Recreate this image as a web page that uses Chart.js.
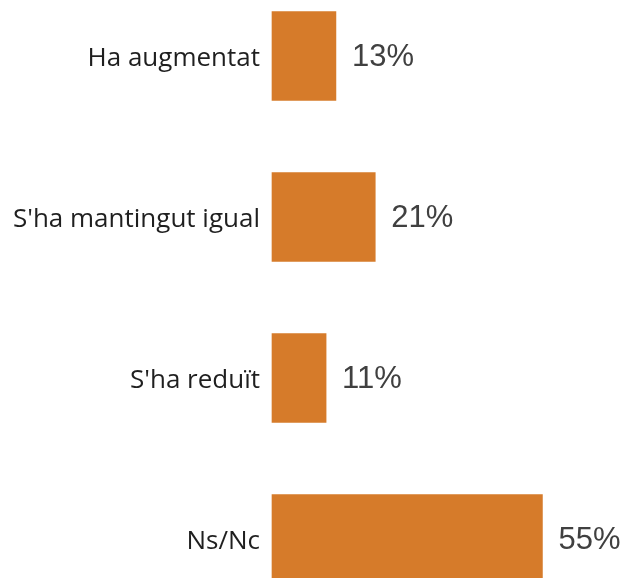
<!DOCTYPE html>
<html>
<head>
<meta charset="utf-8">
<script src="https://cdn.jsdelivr.net/npm/chart.js@4"></script>
<style>
  html, body { margin: 0; padding: 0; background: #fff; }
  #wrap { width: 623px; height: 578px; position: relative; }
</style>
</head>
<body>
<div id="wrap"><canvas id="chart"></canvas></div>
<script>
// Chart data
const categories = ["Ha augmentat", "S'ha mantingut igual", "S'ha reduït", "Ns/Nc"];
const values = [13, 21, 11, 55];
const barColor = "#D67B2A";

// Draws the percentage next to each bar
const valueLabels = {
    id: 'valueLabels',
    afterDatasetsDraw(chart) {
        const ctx = chart.ctx;
        const meta = chart.getDatasetMeta(0);
        ctx.save();
        ctx.font = '31px "Liberation Sans", Arial, sans-serif';
        ctx.fillStyle = '#404040';
        ctx.textAlign = 'left';
        ctx.textBaseline = 'middle';
        meta.data.forEach((bar, i) => {
            ctx.fillText(values[i] + '%', bar.x + 16, bar.y + 1);
        });
        ctx.restore();
    }
};

new Chart(document.getElementById('chart').getContext('2d'), {
    type: 'bar',
    data: {
        labels: categories,
        datasets: [{
            data: values,
            backgroundColor: barColor,
            barThickness: 89,
            clip: false
        }]
    },
    options: {
        indexAxis: 'y',
        responsive: true,
        maintainAspectRatio: false,
        animation: false,
        layout: { padding: { top: 56, bottom: 39, left: 0, right: 56 } },
        plugins: { legend: { display: false }, tooltip: { enabled: false } },
        scales: {
            x: { display: false, min: 0, max: 60 },
            y: {
                offset: false,
                grid: { display: false, drawTicks: false },
                border: { display: false },
                afterFit: function (scale) { scale.width = 272; },
                ticks: {
                    padding: 12,
                    labelOffset: 3,
                    color: '#1f1f1f',
                    font: { family: '"Open Sans", sans-serif', size: 26 }
                }
            }
        }
    },
    plugins: [valueLabels]
});
</script>
</body>
</html>
